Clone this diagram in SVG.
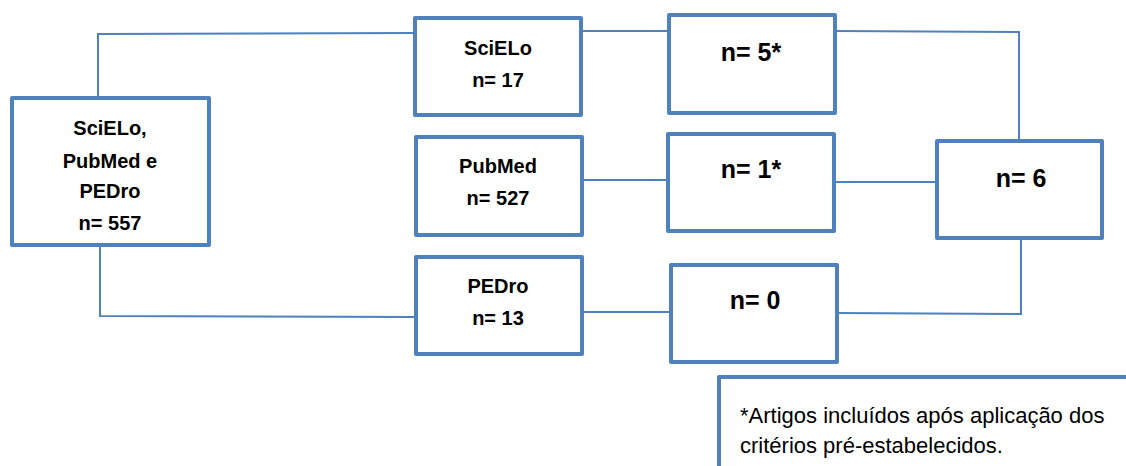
<svg xmlns="http://www.w3.org/2000/svg" width="1126" height="466" viewBox="0 0 1126 466">
<style>
.box{fill:#fff;stroke:#4F81BD;stroke-width:4;stroke-linejoin:round}
.con{fill:none;stroke:#4F81BD;stroke-width:2}
.t{font-family:"Liberation Sans",Arial,sans-serif;font-weight:bold;font-size:20px;fill:#000;text-anchor:middle}
.big{font-size:25px}
.note{font-family:"Liberation Sans",Arial,sans-serif;font-size:22px;fill:#000}
</style>
<rect width="1126" height="466" fill="#fff"/>
<g id="connectors">
<polyline class="con" points="98,97 98,34 415,33"/>
<polyline class="con" points="100,246 100,316 415,317"/>
<line class="con" x1="581" y1="31" x2="669" y2="31"/>
<line class="con" x1="582" y1="180" x2="668" y2="180"/>
<line class="con" x1="582" y1="312" x2="671" y2="312"/>
<polyline class="con" points="835,31 1019,32 1019,141"/>
<line class="con" x1="834" y1="182" x2="937" y2="182"/>
<polyline class="con" points="837,313 1021,314 1021,238"/>
</g>
<g id="n-all">
<rect class="box" x="12" y="98" width="197" height="147"/>
<text class="t" x="110" y="135">SciELo,</text>
<text class="t" x="110" y="168">PubMed e</text>
<text class="t" x="110" y="198">PEDro</text>
<text class="t" x="110" y="230">n= 557</text>
</g>
<g id="n-scielo">
<rect class="box" x="415" y="18" width="166" height="97"/>
<text class="t" x="498" y="55">SciELo</text>
<text class="t" x="498" y="87">n= 17</text>
</g>
<g id="n-pubmed">
<rect class="box" x="416" y="137" width="166" height="98"/>
<text class="t" x="498" y="173">PubMed</text>
<text class="t" x="498" y="205">n= 527</text>
</g>
<g id="n-pedro">
<rect class="box" x="416" y="257" width="166" height="97"/>
<text class="t" x="498" y="293">PEDro</text>
<text class="t" x="498" y="325">n= 13</text>
</g>
<g id="n-5">
<rect class="box" x="669" y="15" width="166" height="98"/>
<text class="t big" x="751" y="61">n= 5*</text>
</g>
<g id="n-1">
<rect class="box" x="668" y="134" width="166" height="97"/>
<text class="t big" x="751" y="178">n= 1*</text>
</g>
<g id="n-0">
<rect class="box" x="671" y="265" width="166" height="97"/>
<text class="t big" x="755" y="309">n= 0</text>
</g>
<g id="n-6">
<rect class="box" x="937" y="141" width="165" height="97"/>
<text class="t big" x="1021" y="187">n= 6</text>
</g>
<g id="note">
<rect class="box" x="719" y="377" width="420" height="100"/>
<text class="note" x="740" y="423">*Artigos incluídos após aplicação dos</text>
<text class="note" x="740" y="453">critérios pré-estabelecidos.</text>
</g>
</svg>
